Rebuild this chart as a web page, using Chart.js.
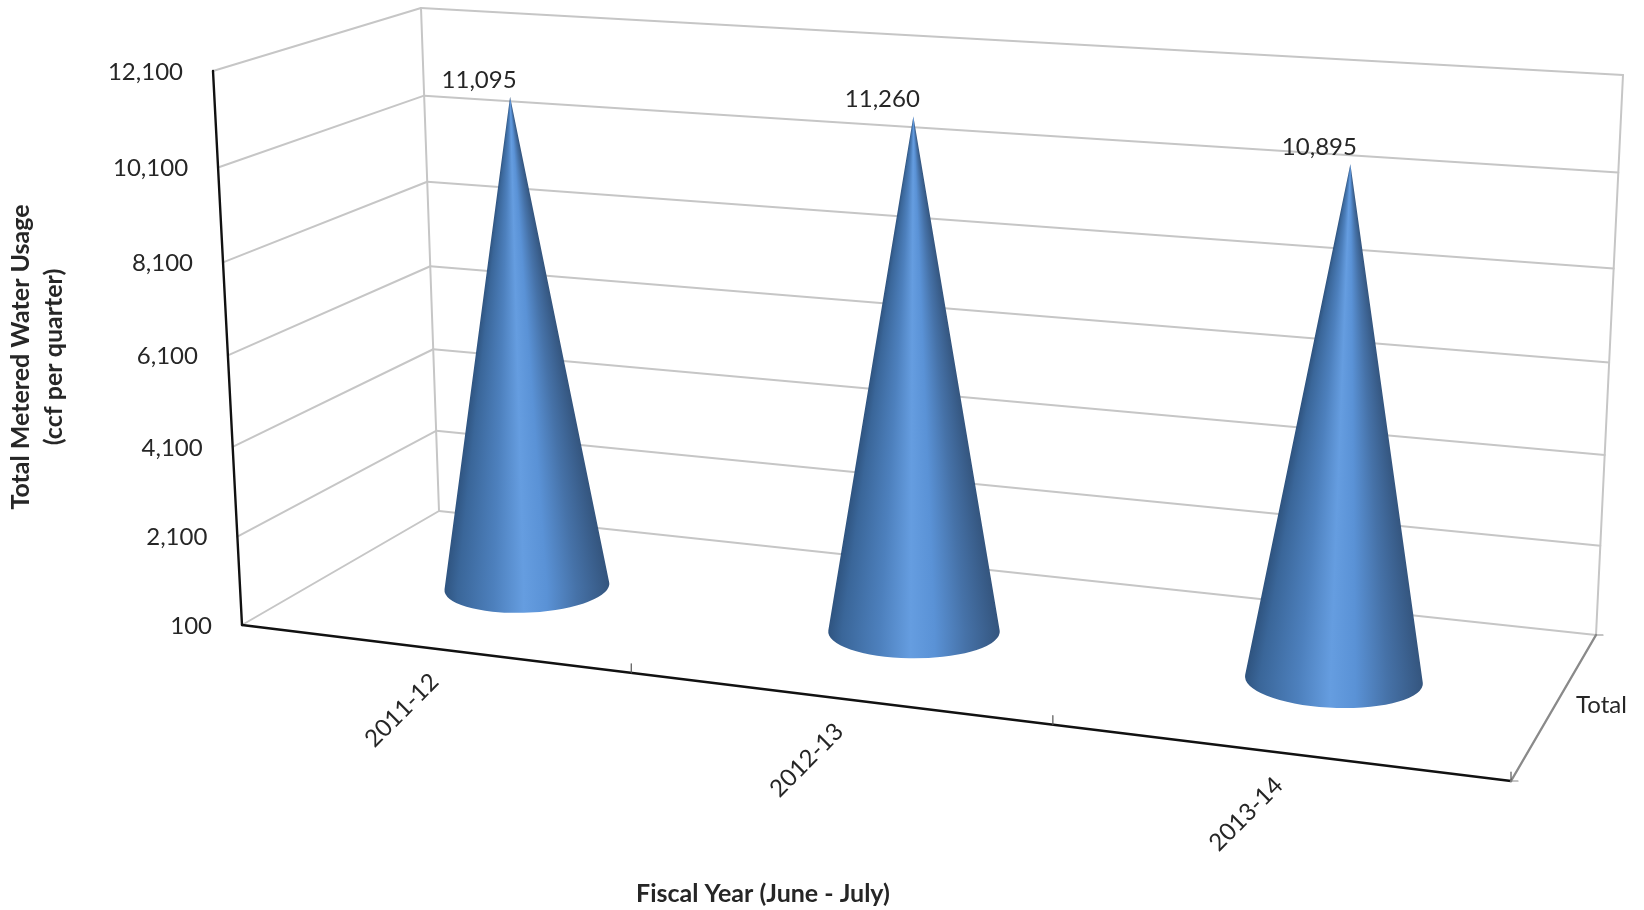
<!DOCTYPE html>
<html>
<head>
<meta charset="utf-8">
<title>Total Metered Water Usage</title>
<script src="https://cdn.jsdelivr.net/npm/chart.js@4/dist/chart.umd.min.js"></script>
<style>
  html, body { margin: 0; padding: 0; background: #fff; }
  canvas { display: block; }
</style>
</head>
<body>
<canvas id="myChart" width="1644" height="910"></canvas>
<script>
// chart values
var categories = ['2011-12', '2012-13', '2013-14'];
var usage = [11095, 11260, 10895];
var yTickValues = [100, 2100, 4100, 6100, 8100, 10100, 12100];
var yTickLabels = ['100', '2,100', '4,100', '6,100', '8,100', '10,100', '12,100'];
var usageLabels = ['11,095', '11,260', '10,895'];
var depthLabel = 'Total';

// corners of the 3D box on the page
var box = {
  frontBottomLeft: [242, 625], frontTopLeft: [213, 71],
  backBottomLeft: [439, 511], backTopLeft: [421, 8],
  frontBottomRight: [1511, 781], frontTopRight: [1548, 165],
  backBottomRight: [1596, 635], backTopRight: [1623, 75]
};
var perspectiveX = 1.13;
var perspectiveZ = 1.055;
var gridColor = '#c6c6c6';
var textColor = '#262626';
var font = 'Lato, "Open Sans", sans-serif';

function mix(a, b, t) { return [a[0] + (b[0] - a[0]) * t, a[1] + (b[1] - a[1]) * t]; }

// x, depth, z all run 0..1
function project(x, depth, z) {
  var f = x / (x + perspectiveX * (1 - x));
  var h = z / (z + perspectiveZ * (1 - z));
  var frontBottom = mix(box.frontBottomLeft, box.frontBottomRight, f);
  var frontTop = mix(box.frontTopLeft, box.frontTopRight, f);
  var backBottom = mix(box.backBottomLeft, box.backBottomRight, f);
  var backTop = mix(box.backTopLeft, box.backTopRight, f);
  return mix(mix(frontBottom, backBottom, depth), mix(frontTop, backTop, depth), h);
}

function line(ctx, a, b, color, width) {
  ctx.strokeStyle = color;
  ctx.lineWidth = width;
  ctx.beginPath();
  ctx.moveTo(a[0], a[1]);
  ctx.lineTo(b[0], b[1]);
  ctx.stroke();
}

var shadeStops = [
  [0, '#2f5480'], [0.08, '#3a6699'], [0.3, '#4d80bd'], [0.48, '#659de0'],
  [0.62, '#5a92d6'], [0.8, '#4672a8'], [1, '#34557e']
];

// the cone is painted row by row so the bands run up towards the tip
function drawCone(ctx, base, tip, rx, ry, tilt) {
  var h = base[1] - tip[1];
  var a = Math.asin(ry / h);
  ctx.save();
  ctx.beginPath();
  ctx.moveTo(tip[0], tip[1]);
  ctx.ellipse(base[0], base[1], rx, ry, tilt, Math.PI + a, -a, true);
  ctx.closePath();
  ctx.clip();
  var bottom = Math.ceil(base[1] + ry + 10);
  for (var y = Math.floor(tip[1]) - 1; y < bottom; y++) {
    var t = Math.min(1, Math.max(0.004, (y + 0.5 - tip[1]) / h));
    var cx = tip[0] + (base[0] - tip[0]) * t;
    var w = rx * t;
    var g = ctx.createLinearGradient(cx - w, 0, cx + w, 0);
    shadeStops.forEach(function (s) { g.addColorStop(s[0], s[1]); });
    ctx.fillStyle = g;
    ctx.fillRect(cx - w - 8, y, 2 * w + 16, 1);
  }
  ctx.restore();
}

var box3d = {
  id: 'box3d',
  beforeDatasetsDraw: function (chart) {
    var ctx = chart.ctx, area = chart.chartArea;
    var xs = chart.scales.x, ys = chart.scales.y;
    function fx(px) { return (px - area.left) / (area.right - area.left); }
    function fz(py) { return (area.bottom - py) / (area.bottom - area.top); }

    ctx.save();
    ctx.lineCap = 'round';

    // walls and gridlines
    ys.ticks.forEach(function (tick) {
      var z = fz(ys.getPixelForValue(tick.value));
      line(ctx, project(0, 0, z), project(0, 1, z), gridColor, 2);
      line(ctx, project(0, 1, z), project(1, 1, z), gridColor, 2);
    });
    line(ctx, project(0, 1, 0), project(0, 1, 1), gridColor, 2);
    line(ctx, project(1, 1, 0), project(1, 1, 1), gridColor, 2);

    // axes
    line(ctx, project(0, 0, 0), project(0, 0, 1), '#111', 2.4);
    line(ctx, project(0, 0, 0), project(1, 0, 0), '#111', 2.4);
    line(ctx, project(1, 0, 0), project(1, 1, 0), '#8a8a8a', 2.4);
    for (var i = 1; i <= categories.length; i++) {
      var edge = i < categories.length ? (xs.getPixelForValue(i - 1) + xs.getPixelForValue(i)) / 2 : area.right;
      var p = project(fx(edge), 0, 0);
      line(ctx, p, [p[0], p[1] - 9], '#555', 1.2);
    }
    var fr = project(1, 0, 0), br = project(1, 1, 0);
    line(ctx, fr, [fr[0] + 7, fr[1]], '#8a8a8a', 1.2);
    line(ctx, br, [br[0] + 7, br[1]], '#8a8a8a', 1.2);

    // cones, positions come from the bar elements
    var meta = chart.getDatasetMeta(0);
    ctx.textAlign = 'center';
    ctx.textBaseline = 'middle';
    meta.data.forEach(function (bar, i) {
      var x = fx(bar.x);
      var base = project(x, 0.5, 0);
      var tip = project(x, 0.5, fz(bar.y));
      base = [base[0] + 4, base[1] - 2];
      tip = [tip[0] + 1, tip[1] - 2];
      var rx = 82.5 + 9.75 * (x - 1 / 6);
      drawCone(ctx, base, tip, rx, rx * 0.31, (x - 0.5) * 0.13);
      ctx.fillStyle = textColor;
      ctx.font = '24px ' + font;
      ctx.fillText(usageLabels[i], tip[0] - 31, tip[1] - 17);

      // category label under the front edge
      var front = project(x, 0, 0);
      ctx.save();
      ctx.translate(front[0] - 31, front[1] + 62);
      ctx.rotate(-Math.PI / 4);
      ctx.fillText(categories[i], 0, 0);
      ctx.restore();
    });

    // value labels next to the axis
    ctx.textAlign = 'right';
    ctx.fillStyle = textColor;
    ctx.font = '24px ' + font;
    ys.ticks.forEach(function (tick, i) {
      var p = project(0, 0, fz(ys.getPixelForValue(tick.value)));
      ctx.fillText(yTickLabels[i], p[0] - 30, p[1] + 1);
    });

    // depth label
    var mid = project(1, 0.5, 0);
    ctx.textAlign = 'center';
    ctx.fillText(depthLabel, mid[0] + 48, mid[1] - 3);
    ctx.restore();
  }
};

new Chart(document.getElementById('myChart').getContext('2d'), {
  type: 'bar',
  data: {
    labels: categories,
    datasets: [{ label: 'Total', data: usage, backgroundColor: 'rgba(0,0,0,0)', borderWidth: 0 }]
  },
  options: {
    responsive: false,
    animation: false,
    devicePixelRatio: 1,
    layout: { padding: { left: 1, right: 200, top: 6, bottom: 0 } },
    plugins: { legend: { display: false }, tooltip: { enabled: false } },
    scales: {
      x: {
        grid: { display: false },
        border: { display: false },
        ticks: { display: false },
        title: {
          display: true,
          text: 'Fiscal Year (June - July)',
          color: textColor,
          font: { family: font, size: 25, weight: 'bold' },
          padding: { top: 163, bottom: 1 }
        }
      },
      y: {
        min: 100,
        max: 12100,
        afterBuildTicks: function (scale) {
          scale.ticks = yTickValues.map(function (v) { return { value: v }; });
        },
        grid: { display: false },
        border: { display: false },
        ticks: { display: false },
        title: {
          display: true,
          text: ['Total Metered Water Usage', '(ccf per quarter)'],
          color: textColor,
          font: { family: font, size: 25, weight: 'bold', lineHeight: 1.3 },
          padding: { top: 4, bottom: 4 }
        }
      }
    }
  },
  plugins: [box3d]
});
</script>
</body>
</html>
